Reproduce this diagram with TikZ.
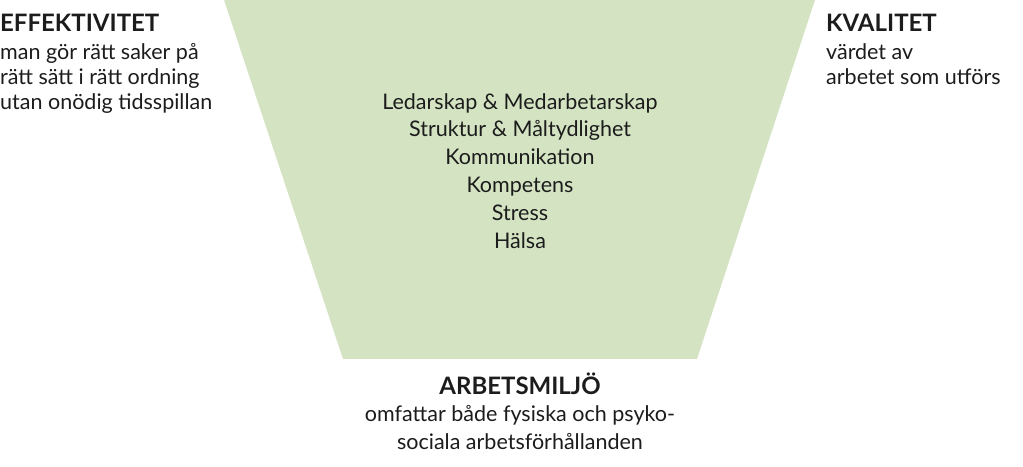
\documentclass[tikz,border=0pt]{standalone}
\usepackage{fontspec}
\setmainfont{Lato}
\usetikzlibrary{positioning}
\definecolor{funnelgreen}{RGB}{212,228,195}
\definecolor{inkgray}{RGB}{28,28,28}
\newcommand{\headfont}{\fontsize{24}{25}\selectfont\bfseries}

\begin{document}
\begin{tikzpicture}[x=1pt, y=1pt, every node/.style={text=inkgray, inner sep=0pt}]
            % Frame
            \useasboundingbox (0,0) rectangle (1023,466);
            % Funnel
            \fill[funnelgreen] (224,466) -- (815,466) -- (697,107) -- (343,107) -- cycle;
            % Side labels
            \node (eff) [anchor=north west, align=left, font=\fontsize{21.5}{25}\selectfont] at (0,452) {{\headfont EFFEKTIVITET}\\[3pt]man gör rätt saker på\\rätt sätt i rätt ordning\\utan onödig tidsspillan};
            \node (kval) [anchor=north west, align=left, font=\fontsize{21.5}{25}\selectfont] at (826,452) {{\headfont KVALITET}\\[3pt]värdet av\\arbetet som utförs};
            % Factors in the funnel
            \node (faktorer) [anchor=north, align=center, font=\fontsize{21.5}{27.8}\selectfont] at (520,373) {Ledarskap \& Medarbetarskap\\Struktur \& Måltydlighet\\Kommunikation\\Kompetens\\Stress\\Hälsa};
            % Bottom label
            \node (miljo) [anchor=north, align=center, font=\fontsize{21.5}{28}\selectfont] at (520,93) {{\headfont ARBETSMILJÖ}\\[-1pt]omfattar både fysiska och psyko-\\sociala arbetsförhållanden};
        \end{tikzpicture}
\end{document}
